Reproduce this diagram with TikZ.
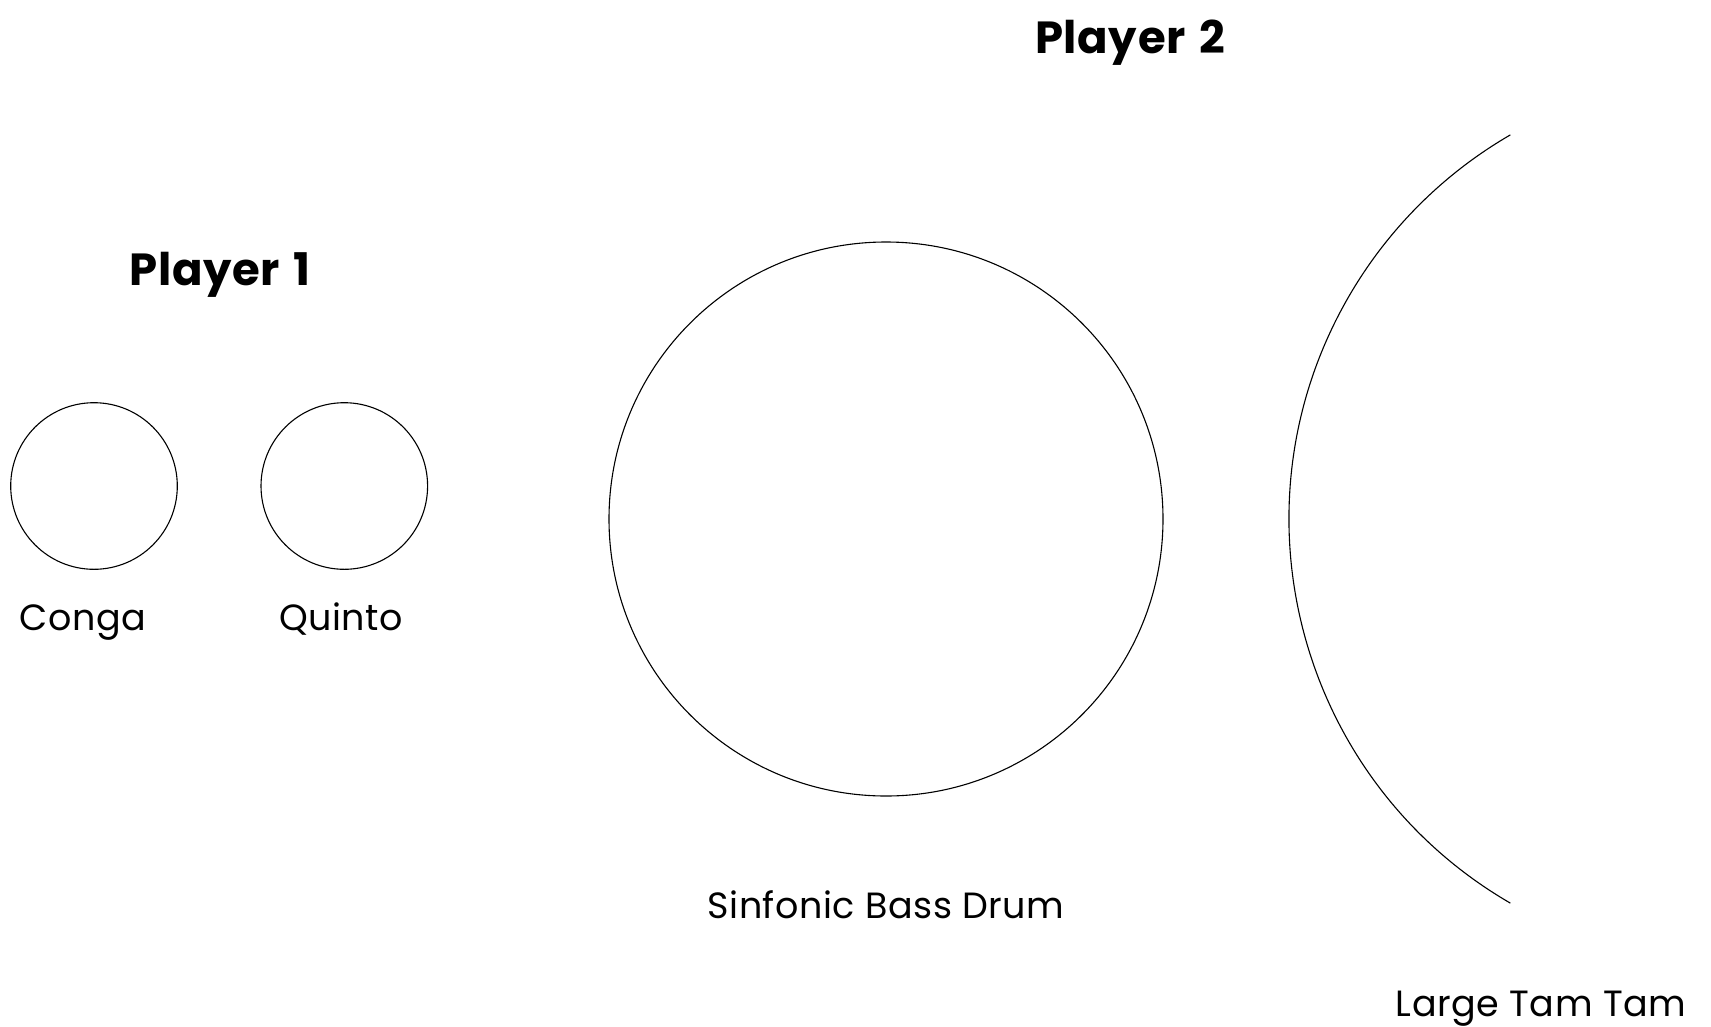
\documentclass[tikz,border=0pt]{standalone}
\usepackage{fontspec}
\setmainfont{Poppins}
\begin{document}
\begin{tikzpicture}[x=1pt,y=-1pt,
  drum/.style={draw=black, line width=1.1pt, circle, inner sep=0pt},
  lbl/.style={font=\fontsize{36.5}{40}\selectfont\addfontfeature{LetterSpace=1.5}, anchor=base, inner sep=0pt},
  head/.style={font=\fontsize{45}{50}\selectfont\bfseries\addfontfeature{LetterSpace=1.5}, anchor=base, inner sep=0pt}]
\useasboundingbox (0,0) rectangle (1711,1026);
\node[head] (p2) at (1130,53) {Player\hspace{0.3em}2};
\node[head] (p1) at (220,285) {Player\hspace{0.3em}1};
\node[drum, minimum size=166.6pt] (conga) at (94,486) {};
\node[drum, minimum size=166.6pt] (quinto) at (344.3,486) {};
\node[lbl] (congal) at (83,630) {Conga};
\node[lbl] (quintol) at (341,630) {Quinto};
\node[drum, minimum size=554pt] (bass) at (886,519) {};
\node[lbl] (bassl) at (886,918) {Sinfonic Bass Drum};
\coordinate (tamc) at (1733,519);
\draw[line width=1.1pt] (tamc) ++(120.1:444) arc[start angle=120.1, end angle=239.9, radius=444];
\node[lbl] (taml) at (1541,1016) {Large Tam Tam};
\end{tikzpicture}
\end{document}
